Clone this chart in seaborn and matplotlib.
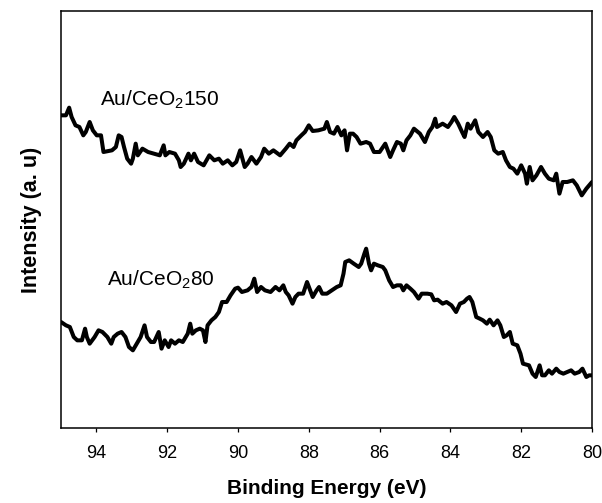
import matplotlib
matplotlib.use("Agg")
import matplotlib.pyplot as plt
import seaborn as sns
import pandas as pd

# ---- data (binding energy in eV, intensity in a.u.) ----
energy_150 = [
    95.00, 94.86, 94.77, 94.70, 94.59, 94.48, 94.37, 94.30, 94.19, 94.10,
    93.99, 93.87, 93.80, 93.56, 93.45, 93.37, 93.29, 93.22, 93.13, 93.02,
    92.97, 92.89, 92.83, 92.70, 92.54, 92.37, 92.21, 92.10, 92.05, 91.94,
    91.78, 91.67, 91.62, 91.53, 91.40, 91.33, 91.24, 91.13, 90.97, 90.81,
    90.67, 90.54, 90.43, 90.29, 90.16, 90.05, 89.94, 89.81, 89.73, 89.62,
    89.48, 89.35, 89.26, 89.13, 89.00, 88.81, 88.65, 88.54, 88.43, 88.35,
    88.21, 88.11, 88.00, 87.89, 87.73, 87.56, 87.49, 87.40, 87.29, 87.19,
    87.08, 86.99, 86.92, 86.84, 86.75, 86.65, 86.54, 86.38, 86.27, 86.16,
    86.00, 85.84, 85.70, 85.62, 85.51, 85.40, 85.33, 85.24, 85.13, 85.03,
    84.86, 84.72, 84.61, 84.51, 84.43, 84.38, 84.22, 84.07, 83.97, 83.89,
    83.78, 83.67, 83.60, 83.51, 83.43, 83.30, 83.21, 83.08, 82.95, 82.86,
    82.76, 82.65, 82.52, 82.43, 82.32, 82.22, 82.11, 82.00, 81.89, 81.84,
    81.76, 81.68, 81.57, 81.44, 81.33, 81.22, 81.08, 81.01, 80.92, 80.83,
    80.70, 80.54, 80.43, 80.29, 80.16, 80.00,
]
intensity_150 = [
    93.8, 93.8, 96.1, 93.3, 90.8, 90.3, 87.8, 88.8, 91.8, 89.3,
    87.8, 87.8, 82.8, 83.3, 84.3, 87.8, 87.3, 84.3, 80.8, 79.3,
    80.8, 85.3, 81.8, 83.8, 82.8, 82.3, 81.8, 84.8, 81.8, 82.8,
    82.3, 80.3, 78.3, 79.3, 82.3, 80.3, 82.3, 79.8, 78.8, 81.8,
    80.3, 80.8, 79.3, 80.3, 78.8, 79.8, 83.3, 78.3, 79.3, 81.3,
    79.3, 81.3, 83.8, 82.3, 83.3, 81.8, 83.8, 85.3, 84.3, 86.3,
    87.8, 88.8, 90.8, 89.1, 89.3, 89.8, 91.8, 88.8, 88.3, 90.3,
    87.8, 89.3, 83.3, 88.3, 88.3, 87.3, 85.3, 85.8, 85.3, 82.8,
    82.8, 85.3, 81.3, 83.3, 85.8, 85.3, 83.3, 86.3, 87.8, 89.8,
    88.3, 85.8, 88.8, 90.3, 92.8, 90.3, 91.3, 90.3, 91.8, 93.3,
    91.3, 88.8, 87.3, 91.3, 89.8, 92.3, 88.8, 87.3, 88.8, 87.3,
    83.3, 82.3, 82.8, 80.3, 78.3, 77.8, 76.3, 78.8, 76.3, 73.3,
    78.3, 74.3, 75.8, 78.3, 76.3, 74.8, 74.3, 76.3, 70.3, 73.8,
    73.8, 74.3, 72.8, 69.8, 71.8, 73.8,
]

energy_80 = [
    95.00, 94.86, 94.75, 94.64, 94.54, 94.41, 94.32, 94.27, 94.19, 94.05,
    93.94, 93.83, 93.69, 93.58, 93.51, 93.40, 93.29, 93.18, 93.08, 92.97,
    92.86, 92.75, 92.64, 92.57, 92.46, 92.37, 92.24, 92.16, 92.07, 91.96,
    91.89, 91.78, 91.67, 91.56, 91.42, 91.35, 91.29, 91.19, 91.08, 90.99,
    90.92, 90.86, 90.75, 90.64, 90.54, 90.45, 90.32, 90.21, 90.08, 90.00,
    89.89, 89.73, 89.62, 89.54, 89.46, 89.35, 89.24, 89.08, 88.94, 88.83,
    88.72, 88.65, 88.57, 88.46, 88.38, 88.29, 88.16, 88.05, 87.96, 87.89,
    87.78, 87.71, 87.62, 87.49, 87.35, 87.21, 87.10, 87.02, 86.97, 86.86,
    86.73, 86.59, 86.52, 86.43, 86.38, 86.30, 86.24, 86.16, 86.05, 85.91,
    85.84, 85.73, 85.62, 85.51, 85.40, 85.33, 85.24, 85.13, 85.03, 84.90,
    84.81, 84.65, 84.54, 84.46, 84.36, 84.22, 84.11, 83.97, 83.84, 83.73,
    83.62, 83.53, 83.46, 83.38, 83.27, 83.17, 83.08, 82.97, 82.89, 82.78,
    82.67, 82.59, 82.49, 82.41, 82.32, 82.24, 82.11, 82.02, 81.95, 81.78,
    81.68, 81.59, 81.48, 81.41, 81.33, 81.22, 81.13, 81.01, 80.92, 80.81,
    80.70, 80.59, 80.49, 80.36, 80.27, 80.16, 80.08, 80.00,
]
intensity_80 = [
    31.8, 30.8, 30.3, 27.3, 26.3, 26.3, 29.8, 27.3, 25.3, 27.3,
    29.3, 28.8, 27.3, 25.3, 27.3, 28.3, 28.8, 27.3, 24.3, 23.3,
    25.3, 27.3, 30.8, 27.3, 25.8, 25.8, 28.8, 23.8, 26.3, 24.3,
    26.3, 25.3, 26.3, 25.8, 28.3, 31.3, 28.3, 29.3, 29.8, 29.3,
    25.8, 30.8, 32.3, 33.3, 34.8, 37.8, 37.8, 39.8, 41.8, 42.1,
    40.8, 41.3, 42.3, 44.8, 40.8, 42.3, 41.3, 40.8, 42.3, 41.3,
    42.8, 40.8, 39.8, 37.3, 39.3, 40.3, 40.3, 43.8, 41.3, 39.3,
    41.3, 42.3, 40.3, 40.3, 41.3, 42.3, 42.8, 46.3, 49.8, 50.3,
    49.3, 48.3, 49.3, 52.3, 53.8, 49.3, 47.3, 49.3, 48.8, 48.3,
    47.3, 44.3, 42.3, 42.8, 42.8, 41.3, 42.8, 41.8, 40.8, 38.8,
    40.3, 40.3, 40.1, 38.3, 38.5, 37.3, 37.8, 36.8, 34.8, 37.3,
    37.8, 38.8, 39.3, 37.8, 33.3, 32.8, 32.3, 31.3, 32.5, 30.8,
    32.3, 30.8, 27.3, 27.8, 28.8, 25.3, 24.8, 22.3, 19.3, 18.8,
    16.3, 15.3, 18.8, 15.8, 15.8, 17.3, 16.3, 17.8, 16.8, 16.3,
    16.8, 17.3, 16.3, 16.8, 17.8, 15.3, 15.8, 15.8,
]

series_labels = [r"Au/CeO$\mathregular{_2}$150", r"Au/CeO$\mathregular{_2}$80"]
x_ticks = [94, 92, 90, 88, 86, 84, 82, 80]
x_label = "Binding Energy (eV)"
y_label = "Intensity (a. u)"

# ---- styling ----
sns.set_style("ticks")
plt.rcParams["font.family"] = ["Liberation Sans", "DejaVu Sans"]
plt.rcParams["mathtext.fontset"] = "custom"
plt.rcParams["mathtext.rm"] = "Liberation Sans"
plt.rcParams["mathtext.it"] = "Liberation Sans:italic"
plt.rcParams["mathtext.bf"] = "Liberation Sans:bold"
plt.rcParams["text.color"] = "black"
plt.rcParams["axes.labelcolor"] = "black"

df = pd.concat([
    pd.DataFrame({"energy": energy_150, "intensity": intensity_150, "sample": "150"}),
    pd.DataFrame({"energy": energy_80, "intensity": intensity_80, "sample": "80"}),
])

fig = plt.figure(figsize=(6.02, 5.03), dpi=100)
ax = fig.add_axes([61 / 602, 1 - 428 / 503, (592 - 61) / 602, (428 - 11) / 503])

sns.lineplot(data=df, x="energy", y="intensity", units="sample", estimator=None,
             sort=False, color="black", linewidth=2.9, ax=ax, legend=False)

ax.set_xlim(95, 80)
ax.set_ylim(0, 125.1)
ax.set_xticks(x_ticks)
ax.set_xticklabels([str(t) for t in x_ticks])
ax.set_yticks([])

for s in ax.spines.values():
    s.set_visible(True)
    s.set_color("black")
    s.set_linewidth(1.1)

ax.tick_params(axis="x", direction="out", length=3.2, width=0.9, pad=9,
               labelsize=13, colors="black")

ax.set_xlabel(x_label, fontsize=15, fontweight="bold", labelpad=12, color="black")
ax.set_ylabel(y_label, fontsize=15.5, fontweight="bold", labelpad=14, color="black")

ax.text(93.90, 96.6, series_labels[0], fontsize=15, ha="left", va="baseline", color="black")
ax.text(93.71, 42.6, series_labels[1], fontsize=15, ha="left", va="baseline", color="black")

fig.savefig("out.png", dpi=100)
